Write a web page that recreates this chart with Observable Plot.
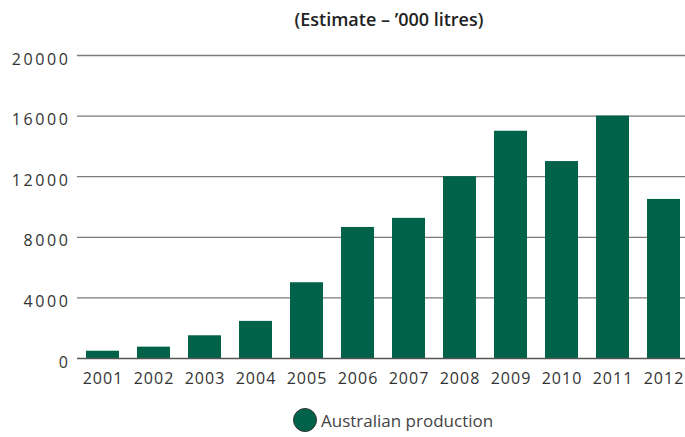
<!DOCTYPE html>
<html>
<head>
<meta charset="utf-8">
<script src="https://cdn.jsdelivr.net/npm/d3@7"></script>
<script src="https://cdn.jsdelivr.net/npm/@observablehq/plot@0.6"></script>
<style>
  html, body { margin: 0; padding: 0; background: #fff; }
  body { width: 685px; height: 437px; overflow: hidden; font-family: "Open Sans", sans-serif; color: #333; position: relative; }
  #title { height: 40px; line-height: 38px; text-align: center; padding-left: 93px; box-sizing: border-box; font-size: 18px; font-weight: 600; color: #222; }
  #legend { position: absolute; left: 293px; top: 408px; display: flex; align-items: center; gap: 4px; font-size: 17px; color: #444; }
  #legend .dot { width: 24px; height: 24px; border-radius: 50%; background: #006249; border: 1px solid #333; box-sizing: border-box; }
  svg { display: block; }
  #chart g[aria-label="y-axis tick label"] text { letter-spacing: 2.6px; }
  #chart g[aria-label="x-axis tick label"] text { letter-spacing: 1px; }
</style>
</head>
<body>
<div id="title">(Estimate – ’000 litres)</div>
<div id="chart"></div>
<div id="legend"><span class="dot"></span><span>Australian production</span></div>
<script>
const years = ["2001","2002","2003","2004","2005","2006","2007","2008","2009","2010","2011","2012"];
const production = [480, 750, 1500, 2450, 5000, 8650, 9250, 12000, 15000, 13000, 16000, 10500];
const yTicks = [0, 4000, 8000, 12000, 16000, 20000];
const seriesName = "Australian production";

const data = years.map((y, i) => ({year: y, value: production[i]}));

const chart = Plot.plot({
  width: 685,
  height: 360,
  marginLeft: 77,
  marginRight: 0,
  marginTop: 15,
  marginBottom: 42,
  style: {fontFamily: "Open Sans, sans-serif", fontSize: "16px", color: "#333", background: "#fff"},
  x: {domain: years, range: [77, 690], paddingInner: 0.35, paddingOuter: 0.175, label: null},
  y: {domain: [0, 20000], label: null},
  marks: [
    Plot.ruleY(yTicks.filter(t => t > 0), {stroke: "#7a7a7a", strokeWidth: 1.3}),
    Plot.barY(data, {x: "year", y: "value", fill: "#006249"}),
    Plot.ruleY([0], {stroke: "#555", strokeWidth: 1.3}),
    Plot.axisY({ticks: yTicks, tickFormat: d => String(d), tickSize: 0, tickPadding: 7, dy: 4, label: null}),
    Plot.axisX({tickSize: 0, tickPadding: 14, label: null})
  ]
});
document.getElementById("chart").appendChild(chart);
</script>
</body>
</html>
